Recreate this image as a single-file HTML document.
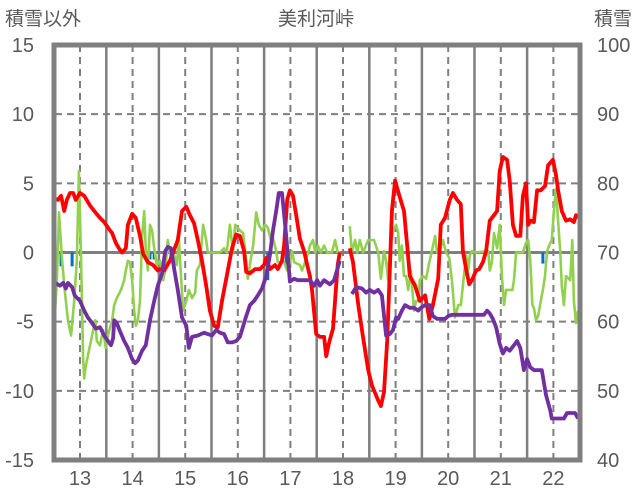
<!DOCTYPE html>
<html><head><meta charset="utf-8"><style>
html,body{margin:0;padding:0;background:#fff;}
svg{display:block;font-family:"Liberation Sans","Noto Sans CJK JP",sans-serif;}
</style></head><body>
<svg id="chart" width="636" height="501" viewBox="0 0 636 501" xmlns="http://www.w3.org/2000/svg">
<text x="5" y="25" font-size="19" fill="#595959">積雪以外</text>
<text x="316" y="25" font-size="19" fill="#595959" text-anchor="middle">美利河峠</text>
<text x="632" y="25" font-size="19" fill="#595959" text-anchor="end">積雪</text>
<g id="grid"></g><g id="bars"></g><g id="lines"></g><g id="axes"></g>
</svg>
<script>
const leftTicks=[15,10,5,0,-5,-10,-15];
const rightTicks=[100,90,80,70,60,50,40];
const dayLabels=[13,14,15,16,17,18,19,20,21,22];
const redDays=[12.52,12.58,12.64,12.70,12.75,12.81,12.87,12.92,13.00,13.08,13.19,13.29,13.38,13.46,13.53,13.61,13.68,13.74,13.80,13.87,13.91,13.99,14.06,14.14,14.20,14.29,14.39,14.48,14.52,14.60,14.71,14.86,14.94,15.02,15.09,15.17,15.24,15.32,15.40,15.47,15.55,15.62,15.70,15.81,15.89,15.97,16.04,16.12,16.16,16.23,16.33,16.42,16.50,16.54,16.61,16.71,16.76,16.84,16.88,16.94,16.99,17.05,17.11,17.18,17.26,17.32,17.37,17.41,17.49,17.56,17.64,17.68,17.73,17.81,17.90,17.94,18.03,18.13,18.19,18.29,18.38,18.48,18.55,18.67,18.72,18.78,18.84,18.89,18.93,18.99,19.08,19.16,19.22,19.27,19.37,19.46,19.56,19.64,19.71,19.81,19.86,19.94,20.03,20.09,20.17,20.24,20.28,20.34,20.40,20.45,20.53,20.59,20.66,20.72,20.79,20.87,20.93,20.98,21.04,21.12,21.17,21.23,21.29,21.37,21.42,21.48,21.52,21.57,21.63,21.69,21.76,21.84,21.90,21.99,22.05,22.09,22.16,22.24,22.32,22.39,22.43,22.47];
const redValues=[3.9,3.8,4.1,3.0,3.8,4.3,4.3,3.8,4.3,4.1,3.4,2.9,2.5,2.2,1.8,1.4,0.7,0.3,0,0.3,2.0,2.8,2.5,1.2,-0.1,-0.7,-0.9,-1.3,-1.2,-1.3,-0.6,0.9,3.0,3.3,2.7,2.1,0.9,-0.6,-2.4,-4.2,-5.3,-5.4,-3.5,-1.3,0.3,1.3,1.2,0.1,-1.4,-1.5,-1.2,-1.2,-0.9,-0.4,-1.2,-0.9,-1.2,-0.6,0.5,3.8,4.5,4.1,2.7,1.0,0.1,-0.9,-1.7,-2.7,-5.9,-6.1,-6.1,-7.5,-6.6,-5.5,-0.9,0,null,0.3,-0.7,-3.8,-6.1,-8.5,-9.6,-10.7,-11.1,-10.1,-6.4,-1.3,3.0,5.2,4.0,3.0,0.5,-1.7,-2.4,-3.5,-3.1,-4.8,-3.8,-1.9,2.0,2.5,3.8,4.3,3.8,3.5,0.1,-1.2,-2.3,-2.0,-1.3,-1.2,-0.7,0.1,2.3,2.7,3.0,5.9,6.9,6.7,5.2,2.0,1.2,1.2,4.1,5.0,2.0,2.3,2.2,4.5,4.5,4.8,6.3,6.7,5.6,4.5,3.0,2.3,2.4,2.2,2.7,2.5];
const purpleDays=[12.52,12.62,12.68,12.73,12.77,12.85,12.90,13.00,13.08,13.15,13.23,13.30,13.38,13.46,13.53,13.59,13.63,13.65,13.70,13.76,13.84,13.91,13.99,14.05,14.10,14.18,14.25,14.33,14.41,14.48,14.56,14.62,14.67,14.73,14.79,14.86,14.94,15.02,15.07,15.13,15.24,15.36,15.43,15.51,15.59,15.66,15.74,15.81,15.89,15.97,16.04,16.16,16.23,16.31,16.38,16.46,16.54,16.61,16.67,16.73,16.78,16.84,16.92,16.99,17.07,17.14,17.26,17.37,17.45,17.51,17.56,17.64,17.75,17.83,17.94,18.05,18.17,18.25,18.36,18.44,18.51,18.59,18.67,18.74,18.82,18.89,18.95,19.01,19.05,19.12,19.18,19.27,19.35,19.43,19.48,19.56,19.65,19.71,19.79,19.86,19.94,20.00,20.07,20.68,20.74,20.79,20.85,20.91,20.98,21.04,21.10,21.17,21.25,21.31,21.37,21.44,21.50,21.56,21.63,21.78,21.86,21.94,21.97,22.20,22.26,22.41,22.47];
const purpleValues=[-2.2,-2.4,-2.2,-2.6,-2.2,-2.5,-3.1,-3.5,-4.2,-4.7,-5.1,-5.5,-5.4,-6.0,-6.4,-6.7,-6.2,-4.9,-5.1,-5.7,-6.4,-6.9,-7.7,-8.0,-7.8,-7.1,-6.7,-4.9,-3.5,-2.4,-1.5,0.1,0.4,0.3,-1.2,-2.7,-4.7,-5.3,-6.9,-6.1,-6.0,-5.8,-5.9,-6.0,-5.6,-5.8,-5.9,-6.5,-6.5,-6.4,-6.1,-4.6,-3.8,-3.5,-3.1,-2.6,-1.7,-0.2,1.6,3.0,4.3,4.3,1.2,-2.1,-1.9,-2.0,-2.0,-2.0,-2.4,-2.0,-2.4,-2.0,-2.3,-2.0,-0.6,null,-3.0,-2.5,-2.6,-2.9,-2.7,-2.9,-2.7,-3.1,-6.0,-5.9,-5.6,-4.7,-4.8,-4.2,-3.8,-4.0,-4.0,-4.2,-4.0,-3.8,-3.8,-4.6,-4.8,-4.8,-4.8,-4.6,-4.5,-4.5,-4.2,-4.4,-4.8,-5.4,-6.6,-7.3,-6.9,-7.1,-6.7,-6.4,-6.9,-8.5,-7.7,-8.3,-8.5,-8.5,-10.3,-11.4,-12.0,-12.0,-11.6,-11.6,-12.0];
const greenDays=[12.52,12.56,12.60,12.66,12.71,12.77,12.83,12.89,12.94,12.98,13.02,13.06,13.08,13.11,13.17,13.23,13.29,13.32,13.38,13.44,13.49,13.53,13.61,13.65,13.70,13.78,13.84,13.87,13.91,13.95,13.99,14.03,14.06,14.10,14.14,14.18,14.22,14.25,14.29,14.33,14.37,14.41,14.46,14.52,14.58,14.62,14.67,14.73,14.79,14.84,14.88,14.92,14.96,15.02,15.07,15.13,15.19,15.22,15.28,15.34,15.40,15.43,15.66,15.74,15.79,15.85,15.91,15.95,16.04,16.10,16.14,16.19,16.23,16.29,16.35,16.40,16.46,16.52,16.57,16.63,16.67,16.73,16.76,16.88,16.94,16.97,17.03,17.07,17.18,17.22,17.28,17.34,17.37,17.43,17.47,17.52,17.58,17.64,17.70,17.79,17.85,17.90,17.94,18.03,18.13,18.17,18.23,18.27,18.32,18.38,18.48,18.59,18.67,18.72,18.78,18.82,18.86,18.89,18.95,19.01,19.05,19.08,19.12,19.16,19.20,19.24,19.29,19.35,19.39,19.43,19.46,19.52,19.58,19.64,19.69,19.75,19.79,19.84,19.90,19.96,20.02,20.07,20.13,20.19,20.24,20.28,20.34,20.38,20.41,20.45,20.51,20.76,20.79,20.83,20.87,20.93,20.98,21.02,21.06,21.10,21.22,21.25,21.29,21.42,21.48,21.52,21.56,21.60,21.63,21.67,21.71,21.75,21.80,21.84,21.88,21.92,21.97,22.01,22.05,22.09,22.13,22.16,22.20,22.24,22.32,22.36,22.39,22.43,22.47];
const greenValues=[-4.6,-2.0,2.9,-0.6,-2.7,-4.9,-6.0,-3.5,-0.6,5.9,-0.6,-7.8,-9.1,-8.2,-7.1,-6.0,-4.9,-6.4,-6.7,-5.6,-6.9,-6.0,-4.9,-3.8,-3.3,-2.7,-2.0,-1.3,-0.6,-0.7,-2.0,-4.2,-5.3,-4.9,-3.5,1.2,3.0,0.1,-1.3,2.0,1.6,0.3,-0.9,-0.6,-2.0,-1.3,0.9,-0.6,-0.2,-0.9,0.9,-1.7,-4.2,-3.5,-2.7,-3.3,-2.9,-1.3,-0.9,2.0,0.9,0,0,0.3,0,2.0,0,2.0,1.6,1.4,0.1,-1.9,-0.9,0.5,2.9,2.0,1.6,2.0,1.8,0.9,1.0,0.1,-0.7,-0.7,-1.3,-1.2,0.1,-0.7,-0.9,-1.3,-0.7,0,0.5,0.9,0,0.5,0,0.5,0,0,0.9,0,0,null,1.9,0,0.9,0,0.9,0,0.9,0.9,0,-1.9,0.1,-0.6,-2.0,0.1,1.6,2.0,1.4,-0.6,0.5,-1.7,-1.7,-2.7,-1.3,-4.2,-3.5,-3.5,-2.0,-1.7,-1.9,-0.7,0.1,1.2,0,0.1,0.9,0,-0.4,-2.0,-4.7,-3.8,-3.8,-2.4,-0.2,-1.3,-0.2,0.1,0,0.1,-1.3,-0.7,1.4,0.3,2.0,-1.7,-3.8,-2.7,-2.7,-2.0,0,0,0.7,0.9,-0.6,-3.8,-4.0,-4.9,-4.6,-3.7,-2.7,-1.7,0.1,0.5,0.9,3.0,4.6,2.3,0.1,-2.4,-3.8,-1.7,-2.0,0.9,-3.5,-5.1,-4.2];
const barDays=[12.64,12.85,14.33,14.41,16.57,16.92,21.80];
const barValues=[-1.0,-1.0,-0.5,-0.5,-2.0,-1.0,-0.8];

const NS='http://www.w3.org/2000/svg';
const L=55,R=579,T=45,B=460;
function xs(d){return 80+(d-13)*52.6;}
function ys(v){return T+(15-v)/30*(B-T);}
function ysR(v){return T+(100-v)/60*(B-T);}
function mk(tag,attrs,parent){const e=document.createElementNS(NS,tag);for(const k in attrs)e.setAttribute(k,attrs[k]);parent.appendChild(e);return e;}
const grid=document.getElementById('grid'),bars=document.getElementById('bars'),lines=document.getElementById('lines'),axes=document.getElementById('axes');

leftTicks.forEach(function(t){
  const y=ys(t);
  if(t!==15&&t!==-15&&t!==0){const g=mk('line',{x1:L,x2:R,y1:y,y2:y,stroke:'#7f7f7f','stroke-width':2,'stroke-dasharray':'7,5'},grid);
  
  }
  const tx=mk('text',{x:34,y:y+7,'font-size':20,fill:'#595959','text-anchor':'end'},axes);
  tx.textContent=t;
  
  
});
rightTicks.forEach(function(t){
  const tx=mk('text',{x:597,y:ysR(t)+7,'font-size':20,fill:'#595959'},axes);
  tx.textContent=t;
  
  
});
dayLabels.forEach(function(d){
  const x=xs(d);
  const g=mk('line',{x1:x,x2:x,y1:T,y2:B,stroke:'#7f7f7f','stroke-width':2,'stroke-dasharray':'7,5'},grid);
  
  
  if(d<22){const s=mk('line',{x1:xs(d+0.5),x2:xs(d+0.5),y1:T,y2:B,stroke:'#7f7f7f','stroke-width':2.5},grid);
  
  }
  const tx=mk('text',{x:x,y:485,'font-size':20,fill:'#595959','text-anchor':'middle'},axes);
  tx.textContent=d;
  
  
});
const zl=mk('line',{x1:L,x2:R,y1:ys(0),y2:ys(0),stroke:'#7f7f7f','stroke-width':3},grid);



barDays.forEach(function(d,i){
  const y0=ys(0),y1=ys(barValues[i]);
  const b=mk('rect',{x:xs(d)-1.5,y:Math.min(y0,y1),width:3,height:Math.abs(y1-y0),fill:'#0070c0'},bars);
  
  
});

function path(days,vals){let d='',pen=false;for(let i=0;i<days.length;i++){if(vals[i]===null){pen=false;continue;}d+=(pen?'L':'M')+xs(days[i]).toFixed(1)+','+ys(vals[i]).toFixed(1);pen=true;}return d;}
const pg=mk('path',{d:path(greenDays,greenValues),fill:'none',stroke:'#92d050','stroke-width':2.6,'stroke-linejoin':'round'},lines);


const pr=mk('path',{d:path(redDays,redValues),fill:'none',stroke:'#ff0000','stroke-width':3.8,'stroke-linejoin':'round'},lines);


const pp=mk('path',{d:path(purpleDays,purpleValues),fill:'none',stroke:'#7030a0','stroke-width':3.8,'stroke-linejoin':'round'},lines);



const fr=mk('rect',{x:L-1,y:T,width:R-L+2,height:B-T,fill:'none',stroke:'#7f7f7f','stroke-width':5},axes);


</script>
</body></html>
